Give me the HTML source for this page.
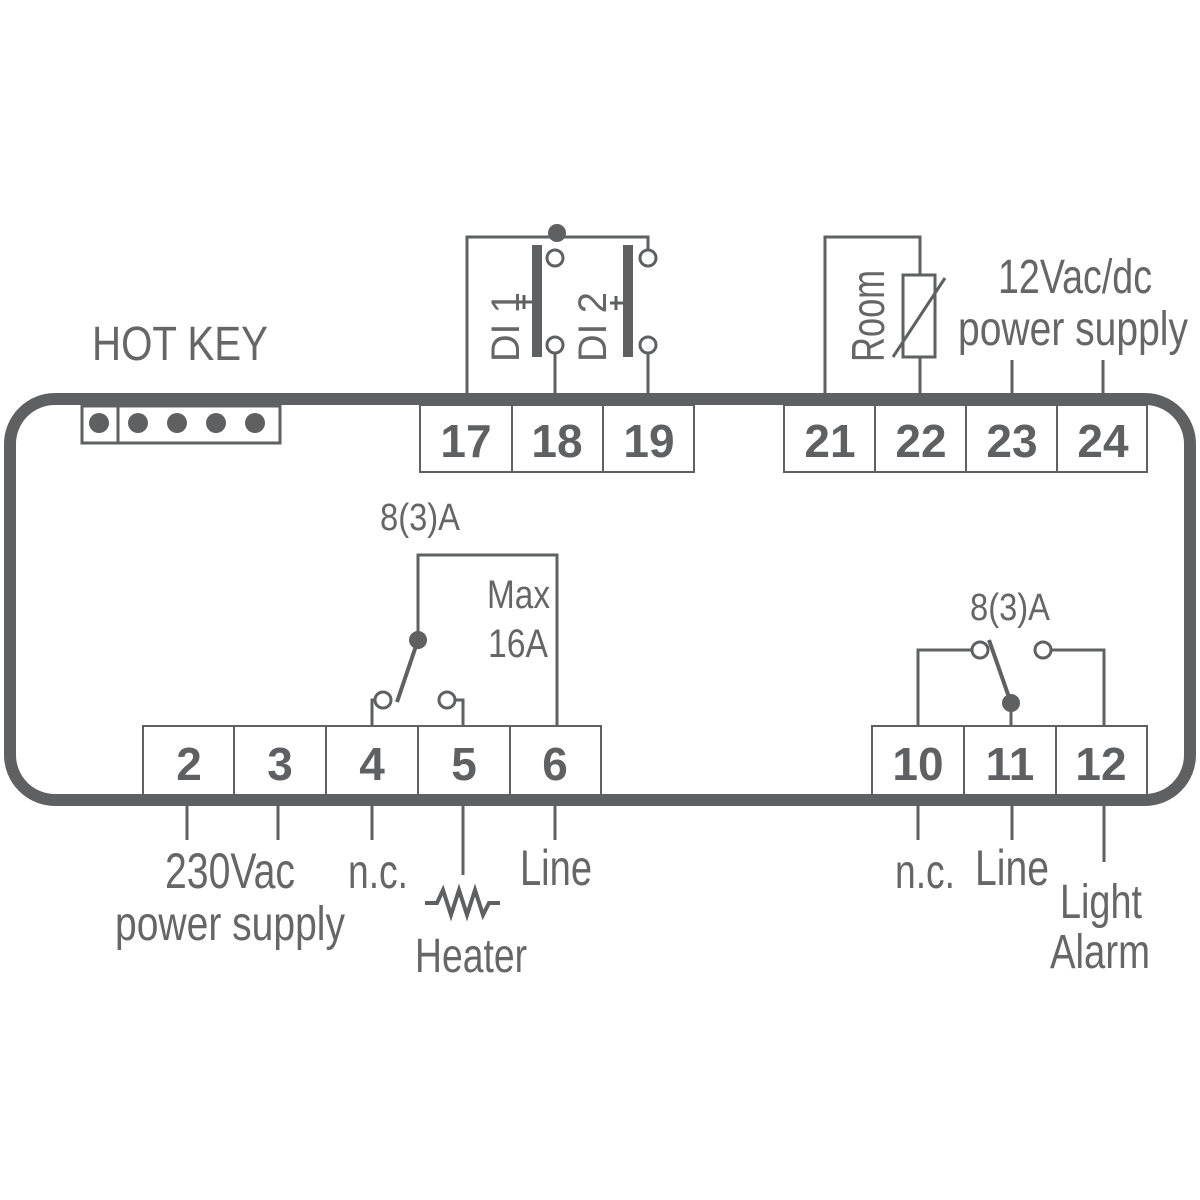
<!DOCTYPE html>
<html><head><meta charset="utf-8"><style>html,body{margin:0;padding:0;background:#fff}svg{display:block}</style></head>
<body>
<svg width="1200" height="1200" viewBox="0 0 1200 1200" xmlns="http://www.w3.org/2000/svg">
<g fill="none" stroke="#5f6062" stroke-width="3">
<rect x="10" y="399" width="1180" height="401" rx="45" stroke-width="12"/>
<rect x="82" y="406" width="198" height="37"/>
<line x1="118" y1="406" x2="118" y2="443"/>
<rect x="420" y="405" width="274" height="67" stroke-width="2"/>
<line x1="512" y1="405" x2="512" y2="472" stroke-width="2"/>
<line x1="603" y1="405" x2="603" y2="472" stroke-width="2"/>
<rect x="784" y="405" width="363" height="67" stroke-width="2"/>
<line x1="875" y1="405" x2="875" y2="472" stroke-width="2"/>
<line x1="966" y1="405" x2="966" y2="472" stroke-width="2"/>
<line x1="1057" y1="405" x2="1057" y2="472" stroke-width="2"/>
<rect x="143" y="726" width="458" height="69" stroke-width="2"/>
<line x1="234" y1="726" x2="234" y2="795" stroke-width="2"/>
<line x1="326" y1="726" x2="326" y2="795" stroke-width="2"/>
<line x1="418" y1="726" x2="418" y2="795" stroke-width="2"/>
<line x1="510" y1="726" x2="510" y2="795" stroke-width="2"/>
<rect x="872" y="726" width="275" height="69" stroke-width="2"/>
<line x1="964" y1="726" x2="964" y2="795" stroke-width="2"/>
<line x1="1056" y1="726" x2="1056" y2="795" stroke-width="2"/>
<polyline points="467,405 467,237 648,237 648,250"/>
<circle cx="555" cy="258" r="8"/>
<circle cx="648" cy="258" r="8"/>
<circle cx="555" cy="345" r="8"/>
<circle cx="648" cy="345" r="8"/>
<line x1="555" y1="353" x2="555" y2="405"/>
<line x1="648" y1="353" x2="648" y2="405"/>
<line x1="518" y1="302" x2="537" y2="302"/>
<line x1="524" y1="295" x2="524" y2="309"/>
<line x1="610" y1="303" x2="628" y2="303"/>
<line x1="616" y1="296" x2="616" y2="310"/>
<polyline points="825,405 825,237 920,237 920,275"/>
<rect x="903" y="275" width="32" height="82"/>
<line x1="920" y1="357" x2="920" y2="405"/>
<line x1="893" y1="357" x2="945" y2="278"/>
<line x1="1012" y1="360" x2="1012" y2="405"/>
<line x1="1103" y1="360" x2="1103" y2="405"/>
<polyline points="372,726 372,700 375,700"/>
<circle cx="383" cy="700" r="8"/>
<circle cx="447" cy="700" r="8"/>
<polyline points="455,700 463,700 463,726"/>
<polyline points="418,640 418,555 557,555 557,726"/>
<line x1="418" y1="640" x2="397" y2="702" stroke-width="4"/>
<polyline points="918,726 918,650 972,650"/>
<circle cx="980" cy="650" r="8"/>
<circle cx="1043" cy="650" r="8"/>
<polyline points="1051,650 1104,650 1104,726"/>
<line x1="1011" y1="703" x2="1011" y2="726"/>
<line x1="989" y1="640" x2="1011" y2="703" stroke-width="4"/>
<line x1="187" y1="806" x2="187" y2="840"/>
<line x1="278" y1="806" x2="278" y2="840"/>
<line x1="372" y1="806" x2="372" y2="840"/>
<line x1="463" y1="806" x2="463" y2="875"/>
<line x1="555" y1="806" x2="555" y2="840"/>
<line x1="918" y1="806" x2="918" y2="840"/>
<line x1="1012" y1="806" x2="1012" y2="840"/>
<line x1="1104" y1="806" x2="1104" y2="862"/>
<polyline points="425,903 437,903 443,890 451,915 459,890 467,915 475,890 483,915 489,903 500,903" stroke-width="4"/>
</g>
<g fill="#5f6062">
<circle cx="99" cy="423" r="10"/><circle cx="138" cy="423" r="10"/><circle cx="177" cy="423" r="10"/><circle cx="216" cy="423" r="10"/><circle cx="255" cy="423" r="10"/>
<circle cx="557" cy="233" r="9"/>
<rect x="532" y="245" width="10" height="112"/>
<rect x="623" y="245" width="10" height="112"/>
<circle cx="418" cy="640" r="9"/>
<circle cx="1011" cy="703" r="9"/>
</g>
<g font-family="'Liberation Sans', sans-serif" font-weight="bold" font-size="46" fill="#5f6062" text-anchor="middle">
<text x="466" y="457">17</text><text x="557" y="457">18</text><text x="649" y="457">19</text>
<text x="830" y="457">21</text><text x="921" y="457">22</text><text x="1012" y="457">23</text><text x="1103" y="457">24</text>
<text x="189" y="780">2</text><text x="280" y="780">3</text><text x="372" y="780">4</text><text x="464" y="780">5</text><text x="555" y="780">6</text>
<text x="918" y="780">10</text><text x="1010" y="780">11</text><text x="1101" y="780">12</text>
</g>
<g font-family="'Liberation Sans Narrow','Liberation Sans', sans-serif" font-size="48" fill="#666">
<text x="92" y="360" textLength="176" lengthAdjust="spacingAndGlyphs">HOT KEY</text>
<text x="998" y="293" textLength="154" lengthAdjust="spacingAndGlyphs">12Vac/dc</text>
<text x="958" y="345" textLength="230" lengthAdjust="spacingAndGlyphs">power supply</text>
<text x="380" y="530" font-size="38" textLength="80" lengthAdjust="spacingAndGlyphs">8(3)A</text>
<text x="970" y="620" font-size="38" textLength="80" lengthAdjust="spacingAndGlyphs">8(3)A</text>
<text x="487" y="608" font-size="40" textLength="63" lengthAdjust="spacingAndGlyphs">Max</text>
<text x="488" y="657" font-size="40" textLength="60" lengthAdjust="spacingAndGlyphs">16A</text>
<text x="165" y="888" font-size="50" textLength="130" lengthAdjust="spacingAndGlyphs">230Vac</text>
<text x="115" y="940" textLength="230" lengthAdjust="spacingAndGlyphs">power supply</text>
<text x="348" y="888" textLength="60" lengthAdjust="spacingAndGlyphs">n.c.</text>
<text x="520" y="885" font-size="50" textLength="72" lengthAdjust="spacingAndGlyphs">Line</text>
<text x="415" y="972" textLength="112" lengthAdjust="spacingAndGlyphs">Heater</text>
<text x="895" y="888" textLength="60" lengthAdjust="spacingAndGlyphs">n.c.</text>
<text x="975" y="885" font-size="50" textLength="74" lengthAdjust="spacingAndGlyphs">Line</text>
<text x="1060" y="918" textLength="82" lengthAdjust="spacingAndGlyphs">Light</text>
<text x="1050" y="968" textLength="100" lengthAdjust="spacingAndGlyphs">Alarm</text>
<text transform="translate(884,362) rotate(-90)" font-size="46" textLength="92" lengthAdjust="spacingAndGlyphs">Room</text>
<text transform="translate(519,362) rotate(-90)" font-size="40" textLength="70" lengthAdjust="spacingAndGlyphs">DI 1</text>
<text transform="translate(606,362) rotate(-90)" font-size="40" textLength="70" lengthAdjust="spacingAndGlyphs">DI 2</text>
</g>
</svg>
</body></html>
